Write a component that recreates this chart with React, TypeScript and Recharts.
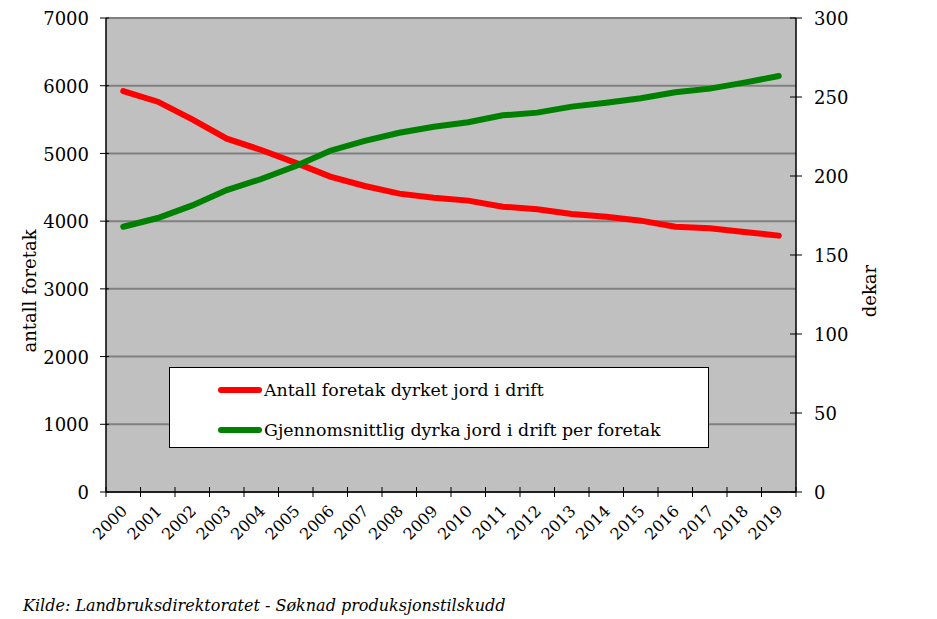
import React from "react";
import { CartesianGrid, Legend, Line, LineChart, XAxis, YAxis } from "recharts";

const years = [
  "2000", "2001", "2002", "2003", "2004", "2005", "2006", "2007", "2008", "2009",
  "2010", "2011", "2012", "2013", "2014", "2015", "2016", "2017", "2018", "2019",
];
const foretak = [
  5920, 5764, 5504, 5218, 5051, 4860, 4657, 4519, 4406, 4347,
  4303, 4214, 4175, 4106, 4066, 4007, 3918, 3894, 3840, 3786,
];
const dekar = [
  167.9, 173.4, 181.4, 191.1, 198.1, 206.3, 216.0, 222.2, 227.4, 231.2,
  234.0, 238.4, 240.1, 243.9, 246.4, 249.2, 253.0, 255.3, 259.1, 263.3,
];
const leftTicks = [0, 1000, 2000, 3000, 4000, 5000, 6000, 7000];
const rightTicks = [0, 50, 100, 150, 200, 250, 300];
const seriesNames = {
  foretak: "Antall foretak dyrket jord i drift",
  dekar: "Gjennomsnittlig dyrka jord i drift per foretak",
};
const source = "Kilde: Landbruksdirektoratet - Søknad produksjonstilskudd";

const data = years.map((year, i) => ({ year, foretak: foretak[i], dekar: dekar[i] }));

const FONT = "'DejaVu Serif', serif";
const CHART_W = 900;
const LEFT_W = 98;
const RIGHT_W = 112;
const BAND = (CHART_W - LEFT_W - RIGHT_W) / years.length;

function XTick(props: any) {
  const { x, y, payload, index } = props;
  const last = index === years.length - 1;
  return (
    <g>
      <line x1={x - BAND / 2} x2={x - BAND / 2} y1={y - 5} y2={y + 5} stroke="#000" />
      {last && <line x1={x + BAND / 2} x2={x + BAND / 2} y1={y - 5} y2={y + 5} stroke="#000" />}
      <text
        x={x + 5}
        y={y + 20}
        transform={`rotate(-45 ${x + 5} ${y + 20})`}
        textAnchor="end"
        fontFamily={FONT}
        fontSize={16}
        fill="#000"
      >
        {payload.value}
      </text>
    </g>
  );
}

function LeftTick(props: any) {
  const { x, y, payload } = props;
  return (
    <g>
      <line x1={x - 6} x2={x + 3} y1={y} y2={y} stroke="#000" />
      <text x={x - 17} y={y} dy="0.4em" textAnchor="end" fontFamily={FONT} fontSize={18} fill="#000">
        {payload.value}
      </text>
    </g>
  );
}

function RightTick(props: any) {
  const { x, y, payload } = props;
  return (
    <g>
      <line x1={x - 6} x2={x + 6} y1={y} y2={y} stroke="#000" />
      <text x={x + 18} y={y} dy="0.4em" textAnchor="start" fontFamily={FONT} fontSize={18} fill="#000">
        {payload.value}
      </text>
    </g>
  );
}

function AxisTitle(props: any) {
  const { viewBox, value, dx } = props;
  const cx = viewBox.x + dx;
  const cy = viewBox.y + viewBox.height / 2 + 36;
  return (
    <text
      x={cx}
      y={cy}
      transform={`rotate(-90 ${cx} ${cy})`}
      textAnchor="middle"
      dominantBaseline="central"
      fontFamily={FONT}
      fontSize={18}
      fill="#000"
    >
      {value}
    </text>
  );
}

function LegendBox(props: any) {
  const { payload } = props;
  return (
    <div
      style={{
        width: 538,
        height: 77,
        background: "#fff",
        border: "1px solid #000",
        fontFamily: FONT,
        fontSize: 17.4,
        boxSizing: "content-box",
        paddingTop: 2,
      }}
    >
      {(payload || []).map((p: any) => (
        <div key={p.value} style={{ display: "flex", alignItems: "center", height: 40, paddingLeft: 48 }}>
          <span
            style={{ display: "inline-block", width: 44, height: 6, borderRadius: 3, background: p.color, marginRight: 2 }}
          />
          <span>{p.value}</span>
        </div>
      ))}
    </div>
  );
}

export default function App() {
  return (
    <div style={{ position: "relative", width: 921, height: 611 }}>
      <LineChart width={CHART_W} height={544} data={data} margin={{ top: 10, right: 0, bottom: 0, left: 0 }}>
        <CartesianGrid
          yAxisId="left"
          vertical={false}
          fill="#C0C0C0"
          stroke="#808080"
          strokeWidth={2}
          horizontalValues={leftTicks}
        />
        <XAxis
          dataKey="year"
          interval={0}
          height={60}
          padding={{ left: BAND / 2, right: BAND / 2 }}
          tickSize={0}
          tickMargin={0}
          tickLine={false}
          axisLine={{ stroke: "#000", strokeWidth: 1.5 }}
          tick={<XTick />}
        />
        <YAxis
          yAxisId="left"
          orientation="left"
          width={LEFT_W}
          domain={[0, 7000]}
          ticks={leftTicks}
          tickSize={0}
          tickMargin={0}
          tickLine={false}
          axisLine={{ stroke: "#000", strokeWidth: 1.5 }}
          tick={<LeftTick />}
          label={<AxisTitle value="antall foretak" dx={21} />}
        />
        <YAxis
          yAxisId="right"
          orientation="right"
          width={RIGHT_W}
          domain={[0, 300]}
          ticks={rightTicks}
          tickSize={0}
          tickMargin={0}
          tickLine={false}
          axisLine={{ stroke: "#000", strokeWidth: 1.5 }}
          tick={<RightTick />}
          label={<AxisTitle value="dekar" dx={73} />}
        />
        <Legend
          layout="horizontal"
          verticalAlign="middle"
          align="center"
          content={<LegendBox />}
          wrapperStyle={{ position: "absolute", left: 161, top: 359, width: 540, height: 80 }}
        />
        <Line
          yAxisId="left"
          type="linear"
          dataKey="foretak"
          name={seriesNames.foretak}
          stroke="#FF0000"
          strokeWidth={6}
          strokeLinecap="round"
          dot={false}
          isAnimationActive={false}
        />
        <Line
          yAxisId="right"
          type="linear"
          dataKey="dekar"
          name={seriesNames.dekar}
          stroke="#008000"
          strokeWidth={6}
          strokeLinecap="round"
          dot={false}
          isAnimationActive={false}
        />
      </LineChart>
      <div
        style={{
          position: "absolute",
          left: 15,
          top: 588,
          fontFamily: FONT,
          fontStyle: "italic",
          fontSize: 16,
          whiteSpace: "nowrap",
        }}
      >
        {source}
      </div>
    </div>
  );
}
